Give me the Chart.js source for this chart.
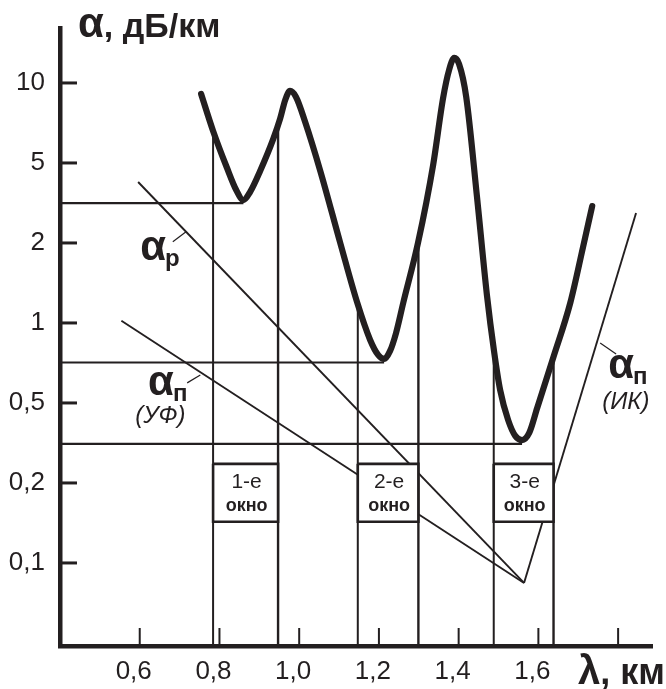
<!DOCTYPE html>
<html><head><meta charset="utf-8">
<script src="https://cdn.jsdelivr.net/npm/chart.js@4/dist/chart.umd.min.js"></script>
<style>html,body{margin:0;padding:0;background:#fff}#wrap{width:666px;height:689px}</style>
</head><body><div id="wrap"><canvas id="c" width="666" height="689"></canvas></div>
<script>
const INK = '#231f20';
const FONT = "'Liberation Sans', Arial, Helvetica, sans-serif";

// ---- axes ----
const xTickValues = [0.6, 0.8, 1.0, 1.2, 1.4, 1.6, 1.8];
const xTickLabels = ['0,6', '0,8', '1,0', '1,2', '1,4', '1,6', ''];
const yTickValues = [10, 5, 2, 1, 0.5, 0.2, 0.1];
const yTickLabels = ['10', '5', '2', '1', '0,5', '0,2', '0,1'];
const X_MIN = 0.40, X_MAX = 1.885;
const Y_TOP_ALPHA = 16.1, Y_BOTTOM_ALPHA = 0.0487;

// ---- total attenuation (thick curve) ----
const lambdaTotal = [0.754,0.784,0.819,0.842,0.860,0.877,0.902,0.935,0.952,0.965,0.977,0.992,1.015,1.053,1.103,1.145,1.178,1.198,1.213,1.228,1.243,1.261,1.298,1.336,1.361,1.376,1.389,1.401,1.419,1.446,1.471,1.489,1.504,1.524,1.542,1.559,1.577,1.597,1.637,1.680,1.712,1.735];
const alphaTotal  = [9.09,6.60,4.72,3.67,3.27,3.59,4.56,6.16,7.32,8.63,9.33,8.86,7.13,4.56,2.00,1.20,0.863,0.758,0.732,0.785,0.917,1.19,2.00,4.89,8.78,11.19,12.42,11.79,8.86,3.39,1.27,0.778,0.560,0.412,0.343,0.327,0.355,0.472,0.738,1.19,1.93,3.05];

// ---- straight components ----
const lambdaRayleigh = [0.596, 1.564];
const alphaRayleigh  = [4.02, 0.0841];
const lambdaUV = [0.554, 1.564];
const alphaUV  = [1.02, 0.0841];
const lambdaIR = [1.564, 1.845];
const alphaIR  = [0.0841, 2.82];

// ---- minima guide lines ----
const minimaAlpha  = [3.16, 0.710, 0.313];
const minimaLambda = [0.860, 1.213, 1.559];

// ---- transparency windows ----
const windowLeft     = [0.784, 1.147, 1.488];
const windowRight    = [0.947, 1.299, 1.638];
const windowLeftTop  = [6.27, 1.17, 0.771];
const windowRightTop = [7.13, 2.00, 0.744];
const windowNames    = ['1-е', '2-е', '3-е'];
const windowWord     = 'окно';
const boxTopAlpha = 0.249, boxBottomAlpha = 0.143;

// ---- labels ----
const labelRayleigh = {lambda: 0.601, alpha: 1.73, main: 'α', sub: 'р'};
const labelUV = {lambda: 0.621, alpha: 0.536, main: 'α', sub: 'п', note: '(УФ)', noteLambda: 0.589, noteAlpha: 0.398};
const labelIR = {lambda: 1.775, alpha: 0.621, main: 'α', sub: 'п', note: '(ИК)', noteLambda: 1.760, noteAlpha: 0.467};
const leaderLambda = [[0.683, 0.717], [0.719, 0.752], [1.755, 1.795]];
const leaderAlpha  = [[2.03, 2.28], [0.595, 0.637], [0.841, 0.764]];

// piecewise-logarithmic position between the evenly spaced tick values
function level(a) {
  const t = yTickValues, n = t.length - 1;
  if (a >= t[0]) return -Math.log(a / t[0]) / Math.log(t[0] / t[1]);
  for (let i = 0; i < n; i++) {
    if (a >= t[i + 1]) return i + Math.log(t[i] / a) / Math.log(t[i] / t[i + 1]);
  }
  return n + Math.log(t[n] / a) / Math.log(t[n - 1] / t[n]);
}
const pts = (ls, as) => ls.map((l, i) => ({x: l, y: level(as[i])}));
const line = (data, w, order, extra) => Object.assign({
  data, borderColor: INK, borderWidth: w, pointRadius: 0, fill: false, tension: 0, order
}, extra || {});

const datasets = [];
datasets.push(line(pts(lambdaTotal, alphaTotal), 6.2, 1, {cubicInterpolationMode: 'monotone', borderCapStyle: 'round', borderJoinStyle: 'round'}));
windowLeft.forEach((l, i) => {
  const r = windowRight[i];
  datasets.push(line(pts([l, r, r, l, l], [boxTopAlpha, boxTopAlpha, boxBottomAlpha, boxBottomAlpha, boxTopAlpha]), 2.6, 2, {fill: 'shape', backgroundColor: '#ffffff'}));
});
datasets.push(line(pts(lambdaRayleigh, alphaRayleigh), 1.9, 3));
datasets.push(line(pts(lambdaUV, alphaUV), 1.9, 3));
datasets.push(line(pts(lambdaIR, alphaIR), 1.9, 3));
leaderLambda.forEach((ls, i) => datasets.push(line(pts(ls, leaderAlpha[i]), 1.2, 3)));
minimaAlpha.forEach((a, i) => datasets.push(line(pts([X_MIN, minimaLambda[i]], [a, a]), 2.2, 4)));
windowLeft.forEach((l, i) => {
  datasets.push(line(pts([l, l], [Y_BOTTOM_ALPHA, windowLeftTop[i]]), 2, 4));
  datasets.push(line(pts([windowRight[i], windowRight[i]], [Y_BOTTOM_ALPHA, windowRightTop[i]]), 2.4, 4));
});

const annotate = {
  id: 'annotate',
  afterDatasetsDraw(chart) {
    const {ctx, chartArea: ca, scales: {x, y}} = chart;
    const X = v => x.getPixelForValue(v), Y = a => y.getPixelForValue(level(a));
    ctx.save();
    ctx.strokeStyle = INK; ctx.fillStyle = INK;
    // tick marks (inside)
    ctx.lineWidth = 3;
    yTickValues.forEach(v => { const p = Y(v); ctx.beginPath(); ctx.moveTo(ca.left, p); ctx.lineTo(ca.left + 17, p); ctx.stroke(); });
    ctx.lineWidth = 2;
    xTickValues.forEach(v => { const p = X(v); ctx.beginPath(); ctx.moveTo(p, ca.bottom); ctx.lineTo(p, ca.bottom - 18); ctx.stroke(); });
    // window captions
    ctx.textAlign = 'center'; ctx.textBaseline = 'alphabetic';
    windowLeft.forEach((l, i) => {
      const cx = (X(l) + X(windowRight[i])) / 2 + 1, top = Y(boxTopAlpha);
      ctx.font = `21px ${FONT}`; ctx.fillText(windowNames[i], cx, top + 24);
      ctx.font = `bold 18px ${FONT}`; ctx.fillText(windowWord, cx, top + 47);
    });
    // component labels
    ctx.textAlign = 'left';
    const alphaLabel = (lb) => {
      const px = X(lb.lambda), py = Y(lb.alpha);
      ctx.font = `bold 42px ${FONT}`; ctx.fillText(lb.main, px, py);
      const w = ctx.measureText(lb.main).width;
      ctx.font = `bold 24px ${FONT}`; ctx.fillText(lb.sub, px + w - 1, py + 6);
      if (lb.note) { ctx.font = `italic 24px ${FONT}`; ctx.fillText(lb.note, X(lb.noteLambda), Y(lb.noteAlpha)); }
    };
    [labelRayleigh, labelUV, labelIR].forEach(alphaLabel);
    // axis titles
    ctx.font = `bold 42px ${FONT}`; ctx.fillText('α', ca.left + 18, 37);
    let w = ctx.measureText('α').width;
    ctx.font = `bold 34px ${FONT}`; ctx.fillText(', дБ/км', ca.left + 18 + w, 37);
    ctx.font = `bold 40px ${FONT}`; ctx.fillText('λ', 578, 684);
    w = ctx.measureText('λ').width;
    ctx.font = `bold 36px ${FONT}`; ctx.fillText(', км', 578 + w, 684);
    ctx.restore();
  }
};

new Chart(document.getElementById('c'), {
  type: 'line',
  data: {datasets},
  plugins: [annotate],
  options: {
    responsive: false, animation: false, devicePixelRatio: 1,
    layout: {padding: {top: 28, right: 14, left: 0, bottom: 0}},
    plugins: {legend: {display: false}, tooltip: {enabled: false}, title: {display: false}},
    scales: {
      x: {
        type: 'linear', min: X_MIN, max: X_MAX,
        afterBuildTicks: s => { s.ticks = xTickValues.map(v => ({value: v})); },
        afterFit: s => { s.height = 43; },
        ticks: {callback: (v, i) => xTickLabels[i], autoSkip: false, maxRotation: 0, padding: 2, labelOffset: -6,
                color: INK, font: {family: FONT, size: 26}},
        grid: {display: false},
        border: {display: true, width: 4.5, color: INK}
      },
      y: {
        type: 'linear', reverse: true, min: level(Y_TOP_ALPHA), max: level(Y_BOTTOM_ALPHA),
        afterBuildTicks: s => { s.ticks = yTickValues.map(v => ({value: level(v)})); },
        afterFit: s => { s.width = 60; },
        ticks: {callback: (v, i) => yTickLabels[i], autoSkip: false, padding: 7,
                color: INK, font: {family: FONT, size: 26}},
        grid: {display: false},
        border: {display: true, width: 4.5, color: INK}
      }
    }
  }
});
</script></body></html>
